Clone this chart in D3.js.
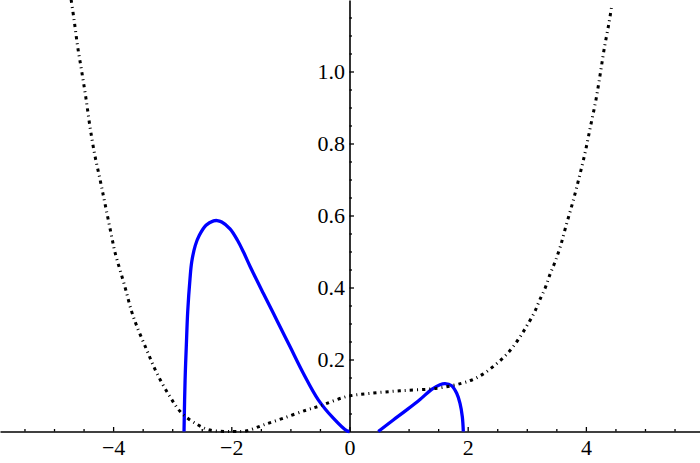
<!DOCTYPE html>
<html>
<head>
<meta charset="utf-8">
<script src="https://cdn.jsdelivr.net/npm/d3@7/dist/d3.min.js"></script>
<style>
    html, body { margin: 0; padding: 0; background: #fff; }
    svg { display: block; }
    svg text { font-family: "Times New Roman", "Liberation Serif", "DejaVu Serif", serif !important; }
</style>
</head>
<body>
<svg></svg>
<script>
'use strict';

// dash-dot black curve
var dashX = [-4.71, -4.66, -4.60, -4.53, -4.46, -4.39, -4.31, -4.22, -4.14, -4.02, -3.97, -3.80, -3.69, -3.60,
    -3.43, -3.26, -3.04, -2.84, -2.56, -2.36, -1.97, -1.74, -1.46, -1.12, -0.72, -0.50, -0.05, 0.35, 0.85,
    1.48, 1.90, 2.11, 2.30, 2.48, 2.64, 2.78, 2.91, 3.02, 3.13, 3.21, 3.31, 3.39, 3.48, 3.57, 3.66, 3.78,
    3.89, 3.99, 4.08, 4.17, 4.24, 4.31, 4.39, 4.44];
var dashY = [1.199, 1.143, 1.069, 0.999, 0.926, 0.845, 0.768, 0.699, 0.635, 0.538, 0.499, 0.402, 0.335, 0.293,
    0.226, 0.162, 0.097, 0.051, 0.018, 0.004, 0.000, 0.002, 0.018, 0.037, 0.060, 0.071, 0.097, 0.106, 0.113,
    0.120, 0.134, 0.146, 0.164, 0.187, 0.211, 0.238, 0.269, 0.299, 0.331, 0.362, 0.398, 0.435, 0.472, 0.515,
    0.569, 0.638, 0.708, 0.777, 0.849, 0.921, 0.990, 1.063, 1.134, 1.185];

// blue curve, left lobe
var blueLeftX = [-2.800, -2.790, -2.778, -2.761, -2.738, -2.699, -2.670, -2.609, -2.541, -2.428, -2.300,
    -2.240, -2.162, -2.022, -1.898, -1.790, -1.684, -1.459, -1.232, -1.007, -0.782, -0.528, -0.274, -0.047, 0];
var blueLeftY = [0, 0.090, 0.165, 0.239, 0.332, 0.424, 0.471, 0.517, 0.545, 0.573, 0.585,
    0.586, 0.582, 0.563, 0.532, 0.497, 0.459, 0.384, 0.310, 0.236, 0.162, 0.088, 0.037, 0.002, 0];

// blue curve, right lobe
var blueRightX = [0.487, 0.741, 0.968, 1.193, 1.391, 1.531, 1.616, 1.729, 1.814, 1.870, 1.909, 1.926];
var blueRightY = [0, 0.032, 0.060, 0.089, 0.117, 0.130, 0.133, 0.127, 0.106, 0.078, 0.041, 0];

var xMajor = [-4, -2, 0, 2, 4];
var yMajor = [0.2, 0.4, 0.6, 0.8, 1.0];

var canvasWidth = 700;
var canvasHeight = 463;
var labelFont = 'Times New Roman, Liberation Serif, DejaVu Serif, serif';

var svg = d3.select('svg')
    .attr('width', canvasWidth)
    .attr('height', canvasHeight);

var xScale = d3.scaleLinear()
    .domain([-5.914, 5.931])
    .range([0, canvasWidth]);
var yScale = d3.scaleLinear()
    .domain([-0.0875, 1.1986])
    .range([canvasHeight, 0]);

var x0 = xScale(0);
var y0 = yScale(0);

// x axis, ticks point up into the plot
var xMinor = d3.range(-5.5, 6, 0.5).filter(function (v) { return v % 2 !== 0; });
svg.append('g')
    .attr('transform', 'translate(0,' + y0 + ')')
    .call(d3.axisBottom(xScale).tickValues(xMinor).tickSizeInner(-2.5).tickSizeOuter(0).tickFormat(''))
    .call(function (g) { g.select('.domain').remove(); });
var xAxis = svg.append('g')
    .attr('transform', 'translate(0,' + y0 + ')')
    .call(d3.axisBottom(xScale).tickValues(xMajor).tickSizeInner(-4.5).tickSizeOuter(0).tickPadding(8));

// y axis only from 0 upward, ticks point right
var yAxisScale = yScale.copy().domain([0, 1.1986]).range([y0, 0]);
var yMinor = d3.range(0.05, 1.19, 0.05).filter(function (v) { return Math.abs(v * 5 - Math.round(v * 5)) > 1e-6; });
svg.append('g')
    .attr('transform', 'translate(' + x0 + ',0)')
    .call(d3.axisLeft(yAxisScale).tickValues(yMinor).tickSizeInner(-2.5).tickSizeOuter(0).tickFormat(''))
    .call(function (g) { g.select('.domain').remove(); });
var yAxis = svg.append('g')
    .attr('transform', 'translate(' + x0 + ',0)')
    .call(d3.axisLeft(yAxisScale).tickValues(yMajor).tickSizeInner(-4.5).tickSizeOuter(0).tickPadding(4.5)
        .tickFormat(d3.format('.1f')));
yAxis.selectAll('.tick text').attr('dy', '0.3em');

svg.selectAll('g').attr('font-family', labelFont).attr('font-size', 22);
svg.selectAll('.tick text')
    .attr('font-family', labelFont)
    .attr('font-size', 22)
    .attr('fill', '#000');
svg.selectAll('.domain').attr('stroke', '#000').attr('stroke-width', 1.6);
svg.selectAll('.tick line').attr('stroke', '#000').attr('stroke-width', 1.3);

var line = d3.line()
    .x(function (d) { return xScale(d[0]); })
    .y(function (d) { return yScale(d[1]); })
    .curve(d3.curveCatmullRom.alpha(0.5));

function pairs(xs, ys) {
    return xs.map(function (v, i) { return [v, ys[i]]; });
}

svg.append('path')
    .datum(pairs(blueLeftX, blueLeftY))
    .attr('d', line)
    .attr('fill', 'none')
    .attr('stroke', '#0000ff')
    .attr('stroke-width', 3.3);
svg.append('path')
    .datum(pairs(blueRightX, blueRightY))
    .attr('d', line)
    .attr('fill', 'none')
    .attr('stroke', '#0000ff')
    .attr('stroke-width', 3.3);

svg.append('path')
    .datum(pairs(dashX, dashY))
    .attr('d', line)
    .attr('fill', 'none')
    .attr('stroke', '#000')
    .attr('stroke-width', 3)
    .attr('stroke-dasharray', '3.2,4,1,4');
</script>
</body>
</html>
